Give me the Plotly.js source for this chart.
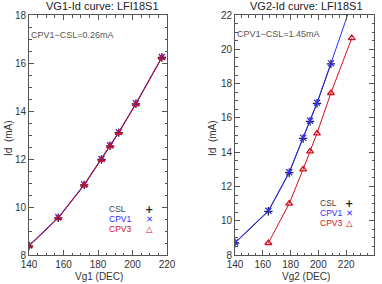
<!DOCTYPE html>
<html>
<head>
<meta charset="utf-8">
<script src="https://cdn.plot.ly/plotly-3.0.1.min.js"></script>
<style>html,body{margin:0;padding:0;background:#fff;}#chart{width:382px;height:284px;}</style>
</head>
<body>
<div id="chart"></div>
<script>
// Left panel: VG1-Id
const vg1 = [140, 157, 172, 182, 187, 192, 202, 217];
const id1_CSL  = [8.38, 9.55, 10.92, 11.98, 12.55, 13.10, 14.30, 16.23];
const id1_CPV1 = [8.40, 9.57, 10.94, 12.00, 12.57, 13.12, 14.32, 16.25];
const id1_CPV3 = [8.37, 9.54, 10.91, 11.97, 12.54, 13.09, 14.29, 16.22];

// Right panel: VG2-Id
const vg2_CSL  = [140, 164, 179, 189, 194, 199, 209];
const id2_CSL  = [8.70, 10.55, 12.80, 14.80, 15.80, 16.85, 19.15];
const vg2_CPV1 = [140, 164, 179, 189, 194, 199, 209, 224];
const id2_CPV1 = [8.73, 10.58, 12.83, 14.83, 15.83, 16.88, 19.18, 22.70];
const vg2_CPV3 = [164, 179, 189, 194, 199, 209, 224];
const id2_CPV3 = [8.70, 11.00, 13.00, 14.05, 15.10, 17.45, 20.65];

const seriesNames = ['CSL', 'CPV1', 'CPV3'];
const seriesColors = ['#222222', '#2b2bff', '#d01020'];
const titles = ['VG1-Id curve: LFI18S1', 'VG2-Id curve: LFI18S1'];
const xTitles = ['Vg1 (DEC)', 'Vg2 (DEC)'];
const diffLabels = ['CPV1\u2212CSL=0.26mA', 'CPV1\u2212CSL=1.45mA'];

const FONT = 'Liberation Sans, Arial, sans-serif';
const TXT = '#333333';
const SYMS = ['cross-thin-open', 'x-thin-open', 'triangle-up-open'];

function mk(x, y, i, xa, ya) {
  return {
    x: x, y: y, xaxis: xa, yaxis: ya, type: 'scatter', mode: 'lines+markers',
    name: seriesNames[i], showlegend: false,
    line: {color: seriesColors[i], width: 1},
    marker: {symbol: SYMS[i], size: 6, color: seriesColors[i],
             line: {color: seriesColors[i], width: 1.3}},
    cliponaxis: true
  };
}

const data = [
  mk(vg1, id1_CSL, 0, 'x', 'y'),
  mk(vg1, id1_CPV1, 1, 'x', 'y'),
  mk(vg1, id1_CPV3, 2, 'x', 'y'),
  mk(vg2_CSL, id2_CSL, 0, 'x2', 'y2'),
  mk(vg2_CPV1, id2_CPV1, 1, 'x2', 'y2'),
  mk(vg2_CPV3, id2_CPV3, 2, 'x2', 'y2')
];

function axis(range, dtick, mdtick, domain, anchor) {
  return {
    range: range, dtick: dtick, tick0: range[0], domain: domain, anchor: anchor,
    showgrid: false, zeroline: false, showline: true, linecolor: '#555', linewidth: 1,
    mirror: 'ticks', ticks: 'inside', ticklen: 5, tickcolor: '#555', tickwidth: 1,
    tickfont: {family: FONT, size: 10, color: TXT},
    minor: {dtick: mdtick, ticks: 'inside', ticklen: 2.5, tickcolor: '#555', showgrid: false},
    fixedrange: true
  };
}

const yDom = [1 - 255/284, 1 - 15/284];
const layout = {
  width: 382, height: 284,
  margin: {l: 0, r: 0, t: 0, b: 0},
  paper_bgcolor: '#fff', plot_bgcolor: '#fff',
  showlegend: false,
  xaxis: axis([140, 220], 20, 5, [29/382, 167/382], 'y'),
  yaxis: axis([8, 18], 2, 0.5, yDom, 'x'),
  xaxis2: axis([140, 240], 20, 5, [235/382, 374/382], 'y2'),
  yaxis2: axis([8, 22], 2, 0.5, yDom, 'x2'),
  annotations: []
};

const A = layout.annotations;
function txt(text, x, y, opts) {
  A.push(Object.assign({text: text, xref: 'paper', yref: 'paper', x: x/382, y: 1 - y/284,
    showarrow: false, xanchor: 'center', yanchor: 'middle', borderpad: 0,
    font: {family: FONT, size: 10, color: TXT}}, opts || {}));
}
// titles
txt(titles[0], 103, 6, {font: {family: FONT, size: 11, color: '#222'}});
txt(titles[1], 306, 6, {font: {family: FONT, size: 11, color: '#222'}});
// axis titles
txt(xTitles[0], 99, 276);
txt(xTitles[1], 306, 276);
txt('Id  (mA)', 8, 138, {textangle: -90});
txt('Id  (mA)', 212, 138, {textangle: -90});
// difference labels
txt(diffLabels[0], 30, 35, {xanchor: 'left', font: {family: FONT, size: 9, color: '#555'}});
txt(diffLabels[1], 236, 34, {xanchor: 'left', font: {family: FONT, size: 9, color: '#555'}});
// legends
const legSyms = ['+', '\u2715', '\u25B3'];
const legPos = [
  {tx: 108, mx: 149, ys: [209, 219, 229]},
  {tx: 319, mx: 349, ys: [203, 213, 223]}
];
legPos.forEach(p => {
  seriesNames.forEach((n, i) => {
    txt(n, p.tx, p.ys[i], {xanchor: 'left', font: {family: FONT, size: 8.5, color: i === 0 ? '#444' : seriesColors[i]}});
    txt(legSyms[i], p.mx, p.ys[i], {font: {family: 'DejaVu Sans, sans-serif', size: i === 0 ? 10 : 8.5, color: seriesColors[i], weight: 'bold'}});
  });
});

Plotly.newPlot('chart', data, layout, {staticPlot: true, displayModeBar: false});
</script>
</body>
</html>
